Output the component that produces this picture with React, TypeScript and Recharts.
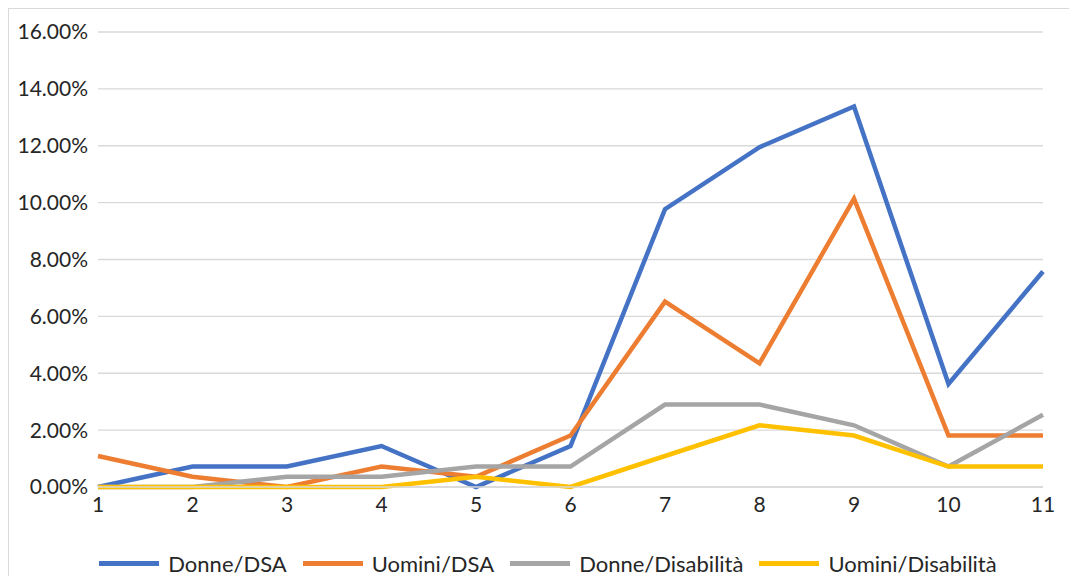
import { CartesianGrid, Legend, Line, LineChart, XAxis, YAxis } from "recharts"

const categories = ["1", "2", "3", "4", "5", "6", "7", "8", "9", "10", "11"]
const donneDSA = [0, 0.72, 0.72, 1.44, 0, 1.44, 9.77, 11.95, 13.38, 3.62, 7.58]
const uominiDSA = [1.09, 0.36, 0, 0.72, 0.36, 1.81, 6.52, 4.35, 10.14, 1.81, 1.81]
const donneDisabilita = [0, 0, 0.36, 0.36, 0.72, 0.72, 2.9, 2.9, 2.17, 0.72, 2.54]
const uominiDisabilita = [0, 0, 0, 0, 0.36, 0, 1.09, 2.17, 1.81, 0.72, 0.72]
const yTicks = [0, 2, 4, 6, 8, 10, 12, 14, 16]

const series = [
  { key: "donneDSA", name: "Donne/DSA", color: "#4472C4" },
  { key: "uominiDSA", name: "Uomini/DSA", color: "#ED7D31" },
  { key: "donneDisabilita", name: "Donne/Disabilità", color: "#A5A5A5" },
  { key: "uominiDisabilita", name: "Uomini/Disabilità", color: "#FFC000" },
]

const data = categories.map((c, i) => ({
  name: c,
  donneDSA: donneDSA[i],
  uominiDSA: uominiDSA[i],
  donneDisabilita: donneDisabilita[i],
  uominiDisabilita: uominiDisabilita[i],
}))

const font = "Lato, 'Liberation Sans', sans-serif"
const textColor = "#262626"

function LegendContent() {
  return (
    <div style={{ display: "flex", justifyContent: "center", alignItems: "center", gap: 16, height: 30 }}>
      {series.map((s) => (
        <div key={s.key} style={{ display: "flex", alignItems: "center" }}>
          <div style={{ width: 60, height: 5, background: s.color, marginRight: 9 }} />
          <span style={{ fontFamily: font, fontSize: 22, color: textColor }}>{s.name}</span>
        </div>
      ))}
    </div>
  )
}

export default function App() {
  return (
    <div
      style={{
        position: "relative",
        width: 1068,
        height: 567,
        borderLeft: "1px solid #d9d9d9",
        borderTop: "1px solid #d9d9d9",
        background: "#fff",
      }}
    >
      <LineChart width={1068} height={567} data={data} margin={{ top: 23, right: 34, left: 0, bottom: 29 }}>
        <CartesianGrid vertical={false} stroke="#d9d9d9" strokeWidth={1.3} />
        <XAxis
          dataKey="name"
          height={30}
          tickLine={false}
          tickSize={6}
          tickMargin={4}
          axisLine={{ stroke: "#d9d9d9", strokeWidth: 1.3 }}
          tick={{ fill: textColor, fontSize: 21, fontFamily: font }}
          interval={0}
        />
        <YAxis
          width={89}
          domain={[0, 16]}
          ticks={yTicks}
          tickLine={false}
          axisLine={false}
          tickSize={6}
          tickMargin={4}
          tick={{ fill: textColor, fontSize: 21, fontFamily: font }}
          tickFormatter={(v: number) => `${v.toFixed(2)}%`}
        />
        <Legend content={<LegendContent />} verticalAlign="bottom" wrapperStyle={{ top: 539, left: 5, width: 1068 }} />
        {series.map((s) => (
          <Line
            key={s.key}
            type="linear"
            dataKey={s.key}
            name={s.name}
            stroke={s.color}
            strokeWidth={4.5}
            dot={false}
            activeDot={false}
            isAnimationActive={false}
          />
        ))}
      </LineChart>
    </div>
  )
}
